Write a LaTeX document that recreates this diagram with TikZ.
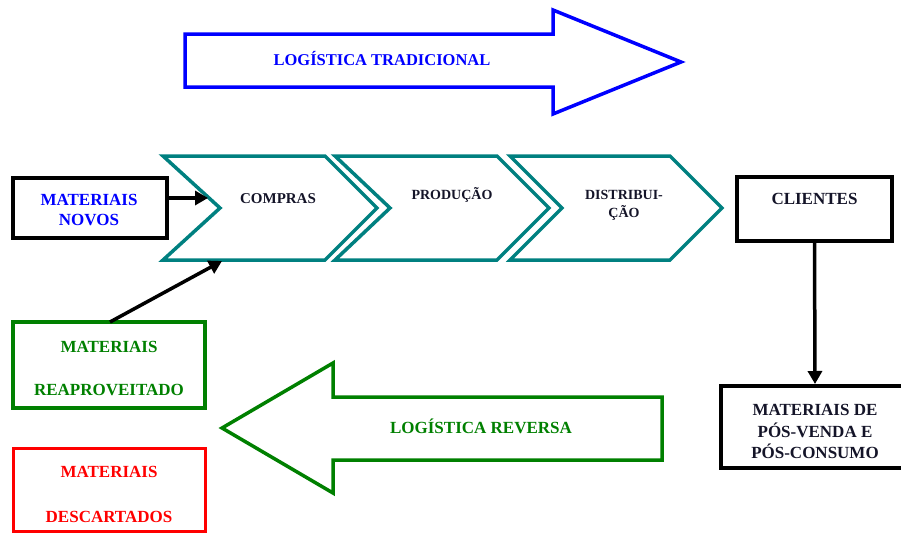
\documentclass[tikz,border=0pt]{standalone}
\usepackage{fontspec}
\setmainfont{Liberation Serif}
\usetikzlibrary{arrows.meta}
\definecolor{tealc}{RGB}{0,128,128}
\definecolor{greenc}{RGB}{0,128,0}
\definecolor{bluec}{RGB}{0,0,255}
\definecolor{redc}{RGB}{255,0,0}
\definecolor{darktxt}{RGB}{20,20,40}
\tikzset{
  lbl/.style={anchor=base, inner sep=0pt, font=\bfseries\fontsize{17}{20}\selectfont},
  smalllbl/.style={anchor=base, inner sep=0pt, font=\bfseries\fontsize{14}{17}\selectfont, text=darktxt},
  boxshape/.style={draw, rectangle, inner sep=0pt},
  blackbox/.style={boxshape, draw=black, line width=4pt},
  greenbox/.style={boxshape, draw=greenc, line width=3.5pt},
  redbox/.style={boxshape, draw=redc, line width=3pt},
  chev/.style={draw=tealc, line width=3.5pt, miter limit=10},
  bigarrow/.style={line width=3.5pt, miter limit=10},
  conn/.style={draw=black, line width=3.5pt, -{Triangle[length=13pt,width=14pt]}}
}
\begin{document}
\begin{tikzpicture}[x=1pt,y=-1pt]
\useasboundingbox (0,0) rectangle (901,533);

% top arrow (traditional logistics)
\draw[bigarrow, draw=bluec] (185,34) -- (553,34) -- (553,10) -- (681,62) -- (553,114) -- (553,87) -- (185,87) -- cycle;
\node[lbl, text=bluec, font=\bfseries\fontsize{16.5}{20}\selectfont] (trad) at (382,65.5) {LOGÍSTICA TRADICIONAL};

% chevrons
\draw[chev] (163,156) -- (325,156) -- (377,208) -- (325,260) -- (163,260) -- (220,208) -- cycle;
\draw[chev] (335,156) -- (497,156) -- (549,208) -- (497,260) -- (335,260) -- (390,208) -- cycle;
\draw[chev] (510,156) -- (670,156) -- (722,208) -- (670,260) -- (510,260) -- (562,208) -- cycle;
\coordinate (c1in) at (208,198);
\coordinate (c1bot) at (222,261);
\node[smalllbl, font=\bfseries\fontsize{15}{18}\selectfont] (compras) at (278,203) {COMPRAS};
\node[smalllbl] (producao) at (452,199.6) {PRODUÇÃO};
\node[smalllbl] (distrib1) at (624,199.6) {DISTRIBUI-};
\node[smalllbl] (distrib2) at (624,217.6) {ÇÃO};

% materiais novos
\node[blackbox, minimum width=154pt, minimum height=60pt] (novos) at (90,208) {};
\node[lbl, text=bluec] (novos1) at (89,205.6) {MATERIAIS};
\node[lbl, text=bluec] (novos2) at (89,225.6) {NOVOS};
\draw[conn] (novos.east |- c1in) -- (c1in);

% clientes
\node[blackbox, minimum width=155pt, minimum height=64pt] (clientes) at (814.5,209) {};
\node[lbl, text=darktxt] (clientes1) at (814.5,204.6) {CLIENTES};

% pos-venda
\node[blackbox, minimum width=188pt, minimum height=82pt] (pos) at (815,427) {};
\node[lbl, text=darktxt] (pos1) at (815,415.6) {MATERIAIS DE};
\node[lbl, text=darktxt] (pos2) at (815,437.6) {PÓS-VENDA E};
\node[lbl, text=darktxt] (pos3) at (815,458.6) {PÓS-CONSUMO};
\draw[conn] (clientes.south) -- (pos.north);

% materiais reaproveitado
\node[greenbox, minimum width=192pt, minimum height=86pt] (reap) at (109,365) {};
\node[lbl, text=greenc] (reap1) at (109,352.6) {MATERIAIS};
\node[lbl, text=greenc] (reap2) at (109,395.6) {REAPROVEITADO};
\coordinate (reapout) at (110,322);
\draw[conn] (reapout) -- (c1bot);

% materiais descartados
\node[redbox, minimum width=192pt, minimum height=83pt] (desc) at (109,489.5) {};
\node[lbl, text=redc] (desc1) at (109,477.6) {MATERIAIS};
\node[lbl, text=redc] (desc2) at (109,522.6) {DESCARTADOS};

% reverse arrow
\draw[bigarrow, draw=greenc] (662,397) -- (333,397) -- (333,363) -- (222,428) -- (333,493) -- (333,460) -- (662,460) -- cycle;
\node[lbl, text=greenc] (rev) at (481,433.6) {LOGÍSTICA REVERSA};
\end{tikzpicture}
\end{document}
